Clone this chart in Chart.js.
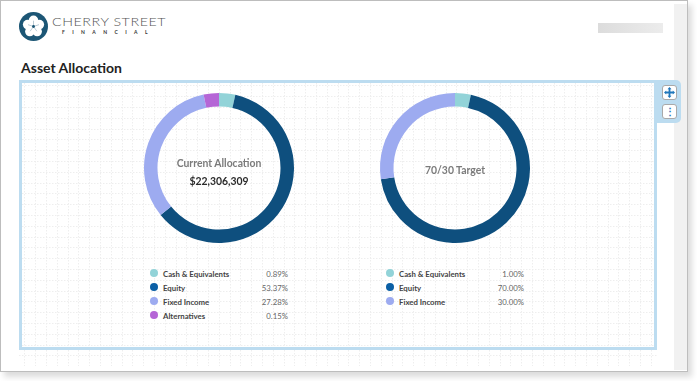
<!DOCTYPE html>
<html>
<head>
<meta charset="utf-8">
<title>Asset Allocation</title>
<script src="https://cdn.jsdelivr.net/npm/chart.js@4"></script>
<style>
    html, body { margin: 0; padding: 0; background: #fff; overflow: hidden; }
    body { width: 697px; height: 381px; position: relative; font-family: Lato, sans-serif; }
    .frame { position: absolute; left: 0; top: 0; width: 686px; height: 370px; border: 1px solid #bdbdbd; box-shadow: 4px 5px 6px rgba(0,0,0,0.14); background: #fff; }
    .scroll { position: absolute; left: 674px; top: 4px; width: 13px; height: 366px; background: #f1f1f1; }
    .grid { position: absolute; left: 19px; top: 80px; width: 638px; height: 286px;
        background-image: url("data:image/svg+xml,%3Csvg xmlns='http://www.w3.org/2000/svg' width='54' height='54'%3E%3Cg stroke='%23eeeeee' stroke-width='1' stroke-dasharray='1.5 1.5'%3E%3Cpath d='M5.5 0V54M16.5 0V54M27.5 0V54M38.5 0V54M49.5 0V54M0 5.5H54M0 16.5H54M0 27.5H54M0 38.5H54M0 49.5H54'/%3E%3C/g%3E%3C/svg%3E"); }
    .panel { position: absolute; left: 19px; top: 80px; width: 632px; height: 264px; border: 3px solid #bcdcf0; }
    .tools { position: absolute; left: 657px; top: 80px; width: 24px; height: 43px; background: #bcdcf0; border-radius: 0 5px 5px 0; }
    .tool { position: absolute; left: 5px; width: 13px; height: 13px; background: #fff; border: 1px solid #a9a9a9; border-radius: 3px; color: #1f77bb; font-size: 10px; font-weight: 700; line-height: 13px; text-align: center; }
    h1 { position: absolute; left: 21px; top: 59px; margin: 0; font-size: 14px; line-height: 18px; font-weight: 700; color: #222; }
    .brand1 { position: absolute; left: 52px; top: 15px; font: 300 11.5px/14px Lato, sans-serif; letter-spacing: 0.45px; color: #555; transform: scaleX(1.24); transform-origin: left center; white-space: nowrap; }
    .brand2 { position: absolute; left: 62px; top: 29px; font: 700 5px/6px Lato, sans-serif; letter-spacing: 7.4px; color: #333; white-space: nowrap; }
    .redact { position: absolute; left: 598px; top: 23px; width: 65px; height: 10px; background: linear-gradient(90deg, #dcdcdc, #ececec); }
    .wrap { position: absolute; width: 160px; height: 160px; }
    .center { position: absolute; text-align: center; width: 120px; }
    .c-title { font-size: 10.4px; line-height: 14px; font-weight: 700; color: #7b7b7b; }
    .c-value { font-size: 10.4px; line-height: 14px; font-weight: 700; color: #2b2b2b; margin-top: 4px; }
    .legend { position: absolute; top: 267px; font-size: 7.8px; color: #333; }
    .row { position: relative; height: 14px; line-height: 14px; }
    .dot { position: absolute; left: 0; top: 2px; width: 8px; height: 8px; border-radius: 50%; }
    .name { position: absolute; left: 13px; top: 0; font-weight: 700; color: #444; white-space: nowrap; }
    .pct { position: absolute; right: 0; top: 0; color: #666; }
</style>
</head>
<body>
<div class="frame"></div>
<div class="scroll"></div>
<div class="grid"></div>

<svg style="position:absolute;left:19px;top:12px" width="29" height="29" viewBox="0 0 30 30">
    <circle cx="15" cy="15" r="15" fill="#1c5675"/>
    <g fill="#fff">
        <circle cx="15" cy="8.6" r="4.9"/>
        <circle cx="21.1" cy="13" r="4.9"/>
        <circle cx="18.8" cy="20.2" r="4.9"/>
        <circle cx="11.2" cy="20.2" r="4.9"/>
        <circle cx="8.9" cy="13" r="4.9"/>
        <circle cx="15" cy="15" r="5"/>
    </g>
    <g stroke="#6f93a8" stroke-width="0.5">
        <path d="M15 15V9M15 15L20.7 13.1M15 15L18.5 19.9M15 15L11.5 19.9M15 15L9.3 13.1"/>
    </g>
    <circle cx="15" cy="15" r="1.5" fill="#1c5675"/>
</svg>
<div class="brand1">CHERRY STREET</div>
<div class="brand2">FINANCIAL</div>
<div class="redact"></div>
<h1>Asset Allocation</h1>

<div class="panel"></div>
<div class="tools">
    <div class="tool" style="top:5px">
        <svg width="11" height="11" viewBox="0 0 11 11" style="position:absolute;left:1px;top:1px">
            <path fill="#1f77bb" d="M5.5 0L7.5 2.2H6.4V4.6H8.8V3.5L11 5.5L8.8 7.5V6.4H6.4V8.8H7.5L5.5 11L3.5 8.8H4.6V6.4H2.2V7.5L0 5.5L2.2 3.5V4.6H4.6V2.2H3.5Z"/>
        </svg>
    </div>
    <div class="tool" style="top:24px">⋮</div>
</div>

<div class="wrap" style="left:139px;top:88px"><canvas id="currentChart" width="160" height="160"></canvas></div>
<div class="wrap" style="left:375px;top:88px"><canvas id="targetChart" width="160" height="160"></canvas></div>

<div class="center" style="left:159px;top:156px">
    <div class="c-title">Current Allocation</div>
    <div class="c-value">$22,306,309</div>
</div>
<div class="center" style="left:395px;top:163px">
    <div class="c-title">70/30 Target</div>
</div>

<div class="legend" id="currentLegend" style="left:150px;width:138px"></div>
<div class="legend" id="targetLegend" style="left:386px;width:138px"></div>

<script>
// Values
const currentLabels = ["Cash & Equivalents", "Equity", "Fixed Income", "Alternatives"];
const currentSlices = [3.5, 60.7, 32.5, 3.3];
const currentPercents = ["0.89%", "53.37%", "27.28%", "0.15%"];
const currentColors = ["#92d3d8", "#0e4f7e", "#9dabf0", "#b566d6"];
const currentDots = ["#92d3d8", "#0b5fa5", "#9dabf0", "#b566d6"];

const targetLabels = ["Cash & Equivalents", "Equity", "Fixed Income"];
const targetSlices = [3.4, 69.2, 27.4];
const targetPercents = ["1.00%", "70.00%", "30.00%"];
const targetColors = ["#92d3d8", "#0e4f7e", "#9dabf0"];
const targetDots = ["#92d3d8", "#0b5fa5", "#9dabf0"];

function drawDonut(canvasId, labels, values, colors) {
    const ctx = document.getElementById(canvasId).getContext("2d");
    new Chart(ctx, {
        type: "doughnut",
        data: {
            labels,
            datasets: [{ data: values, backgroundColor: colors, borderWidth: 0 }]
        },
        options: {
            responsive: false,
            animation: false,
            cutout: "82%",
            layout: { padding: 5 },
            plugins: { legend: { display: false }, tooltip: { enabled: false } }
        }
    });
}

function drawLegend(elId, labels, percents, dots) {
    const el = document.getElementById(elId);
    labels.forEach((name, i) => {
        const row = document.createElement("div");
        row.className = "row";
        row.innerHTML = `
            <span class="dot" style="background:${dots[i]}"></span>
            <span class="name">${name.replace("&", "&amp;")}</span>
            <span class="pct">${percents[i]}</span>
        `;
        el.appendChild(row);
    });
}

drawDonut("currentChart", currentLabels, currentSlices, currentColors);
drawDonut("targetChart", targetLabels, targetSlices, targetColors);
drawLegend("currentLegend", currentLabels, currentPercents, currentDots);
drawLegend("targetLegend", targetLabels, targetPercents, targetDots);
</script>
</body>
</html>
